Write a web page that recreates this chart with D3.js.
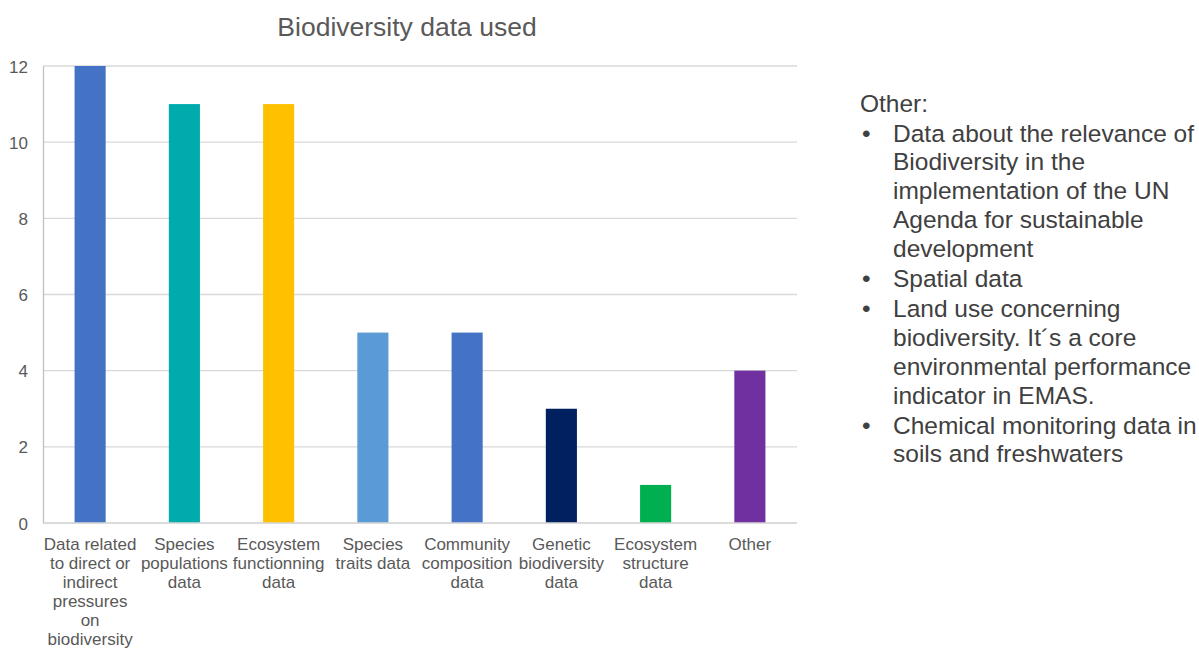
<!DOCTYPE html>
<html>
<head>
<meta charset="utf-8">
<script src="https://cdn.jsdelivr.net/npm/d3@7"></script>
<style>
  html, body { margin: 0; padding: 0; background: #fff; }
  svg { display: block; font-family: "Liberation Sans", Arial, sans-serif; }
</style>
</head>
<body>
<svg id="chart" width="1199" height="650"></svg>
<script>
// Category labels, split into the lines they wrap to under each bar
const categoryLines = [
  ["Data related", "to direct or", "indirect", "pressures", "on", "biodiversity"],
  ["Species", "populations", "data"],
  ["Ecosystem", "functionning", "data"],
  ["Species", "traits data"],
  ["Community", "composition", "data"],
  ["Genetic", "biodiversity", "data"],
  ["Ecosystem", "structure", "data"],
  ["Other"]
];
const categories = categoryLines.map(l => l.join(" "));
const counts = [12, 11, 11, 5, 5, 3, 1, 4];
const barColors = ["#4472C4", "#00ABAD", "#FFC000", "#5B9BD5", "#4472C4", "#002060", "#00B050", "#7030A0"];
const yTicks = [0, 2, 4, 6, 8, 10, 12];

const titleText = "Biodiversity data used";
const noteHeading = "Other:";
const noteItems = [
  ["Data about the relevance of", "Biodiversity in the", "implementation of the UN", "Agenda for sustainable", "development"],
  ["Spatial data"],
  ["Land use concerning", "biodiversity. It\u00b4s a core", "environmental performance", "indicator in EMAS."],
  ["Chemical monitoring data in", "soils and freshwaters"]
];

const svg = d3.select("#chart");
const plot = { left: 43, right: 797, top: 66, bottom: 523 };

const x = d3.scaleBand()
  .domain(categories)
  .range([plot.left, plot.right])
  .paddingInner(0.67)
  .paddingOuter(0.335);

const y = d3.scaleLinear()
  .domain([0, 12])
  .range([plot.bottom, plot.top]);

// Horizontal gridlines
svg.append("g")
  .selectAll("line")
  .data(yTicks)
  .join("line")
  .attr("x1", plot.left)
  .attr("x2", plot.right)
  .attr("y1", d => y(d))
  .attr("y2", d => y(d))
  .attr("stroke", "#d9d9d9")
  .attr("stroke-width", 1.3);

// Y axis labels
const yAxis = svg.append("g")
  .attr("transform", `translate(${plot.left},0)`)
  .call(d3.axisLeft(y).tickValues(yTicks).tickSize(0).tickPadding(15).tickFormat(d3.format("d")));
yAxis.select(".domain").attr("stroke", "#bfbfbf").attr("stroke-width", 1.3);
yAxis.selectAll("text")
  .attr("fill", "#595959")
  .attr("dy", "0.36em")
  .style("font-size", "17px")
  .style("font-family", "'Liberation Sans', Arial, sans-serif");

// Bars
svg.append("g")
  .selectAll("rect")
  .data(categories)
  .join("rect")
  .attr("x", d => x(d))
  .attr("width", x.bandwidth())
  .attr("y", (d, i) => y(counts[i]))
  .attr("height", (d, i) => y(0) - y(counts[i]))
  .attr("fill", (d, i) => barColors[i]);

// Baseline
svg.append("line")
  .attr("x1", plot.left)
  .attr("x2", plot.right)
  .attr("y1", y(0))
  .attr("y2", y(0))
  .attr("stroke", "#d9d9d9")
  .attr("stroke-width", 1.5);

// Category labels
const catG = svg.append("g");
categories.forEach((c, i) => {
  const cx = x(c) + x.bandwidth() / 2;
  const t = catG.append("text")
    .attr("text-anchor", "middle")
    .attr("fill", "#595959")
    .style("font-size", "17px");
  categoryLines[i].forEach((line, j) => {
    t.append("tspan")
      .attr("x", cx)
      .attr("y", 550 + j * 19)
      .text(line);
  });
});

// Title
svg.append("text")
  .attr("x", 407)
  .attr("y", 36)
  .attr("text-anchor", "middle")
  .attr("fill", "#595959")
  .style("font-size", "26.5px")
  .text(titleText);

// Side note listing the "Other" entries
const note = svg.append("g").attr("fill", "#404040").style("font-size", "24.5px");
note.append("text").attr("x", 860).attr("y", 112).text(noteHeading);
let lineY = 141.5;
const lineStep = 28.9;
noteItems.forEach(item => {
  note.append("text").attr("x", 862).attr("y", lineY).text("\u2022");
  item.forEach(line => {
    note.append("text").attr("x", 893).attr("y", lineY).text(line);
    lineY += lineStep;
  });
  lineY += 1;
});
</script>
</body>
</html>
